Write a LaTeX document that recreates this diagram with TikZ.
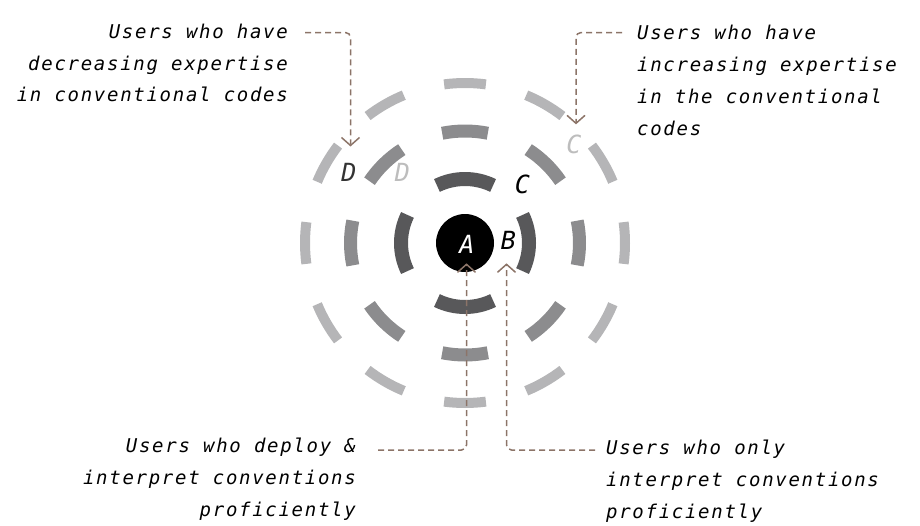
\documentclass[tikz,border=0pt]{standalone}
\usepackage{fontspec}
\newfontfamily\notefont[LetterSpace=9]{DejaVu Sans Mono}
\newfontfamily\tagfont{DejaVu Sans Mono}
\usetikzlibrary{arrows.meta}
\definecolor{ringA}{HTML}{58585A}
\definecolor{ringB}{HTML}{8C8C8E}
\definecolor{ringC}{HTML}{B5B5B7}
\definecolor{leader}{HTML}{8C7468}
\definecolor{tagdark}{HTML}{333333}
\definecolor{taglight}{HTML}{BDBDBD}
\begin{document}
\begin{tikzpicture}[x=1pt,y=-1pt,
  note/.style={font=\notefont\itshape\fontsize{19}{31.7}\selectfont, inner sep=0pt},
  tag/.style={font=\tagfont\itshape\fontsize{25}{25}\selectfont, inner sep=0pt},
  leaderline/.style={draw=leader, line width=1.5pt, dash pattern=on 6pt off 4pt,
    rounded corners=5pt, -{Straight Barb[length=8pt,width=18pt,line width=1.5pt]}},
]
\useasboundingbox (0,0) rectangle (920,525);
\coordinate (O) at (465,243);

% outer ring: twelve short segments
\foreach \a in {0,30,...,330}
  \draw[ringC, line width=10pt] (O) ++(\a-7.5:160) arc[start angle=\a-7.5, end angle=\a+7.5, radius=160];
% middle ring: eight segments
\foreach \a in {0,45,...,315}
  \draw[ringB, line width=13pt] (O) ++(\a-11.5:114.5 and 112) arc[start angle=\a-11.5, end angle=\a+11.5, x radius=114.5, y radius=112];
% inner ring: four segments
\foreach \a in {0,90,180,270}
  \draw[ringA, line width=14pt] (O) ++(\a-26:64) arc[start angle=\a-26, end angle=\a+26, radius=64];

% core
\node[circle, fill=black, minimum size=58pt, inner sep=0pt] (hub) at (O) {};

% letters
\node[tag, text=white] (tA) at (467,244) {A};
\node[tag, text=black] (tB) at (508.5,240) {B};
\node[tag, text=black] (tC) at (522.5,184.5) {C};
\node[tag, text=taglight] (tCo) at (574,144) {C};
\node[tag, text=tagdark] (tD) at (349,172.5) {D};
\node[tag, text=taglight] (tDi) at (402.5,172.5) {D};

% notes (anchored on the baseline of their last line)
\node[note, align=right, anchor=base east] (nTL) at (288,101.7)
  {Users who have\\decreasing expertise\\in conventional codes};
\node[note, align=left, anchor=base west] (nTR) at (637,135)
  {Users who have\\increasing expertise\\in the conventional\\codes};
\node[note, align=right, anchor=base east] (nBL) at (356,516)
  {Users who deploy \&\\interpret conventions\\proficiently};
\node[note, align=left, anchor=base west] (nBR) at (606,518)
  {Users who only\\interpret conventions\\proficiently};

% leader lines
\coordinate (sTL) at (305,32.5);
\coordinate (sTR) at (622,32.5);
\coordinate (sBL) at (378,450);
\coordinate (sBR) at (595,450);
\draw[leaderline] (sTL) -| ([xshift=1.5pt,yshift=16.7pt]tD.north);
\draw[leaderline] (sTR) -| ([xshift=2pt,yshift=10pt]tCo.north);
\draw[leaderline] (sBL) -| ([xshift=-0.5pt,yshift=-10pt]tA.south);
\draw[leaderline] (sBR) -| ([xshift=-2pt,yshift=-14pt]tB.south);
\end{tikzpicture}
\end{document}
